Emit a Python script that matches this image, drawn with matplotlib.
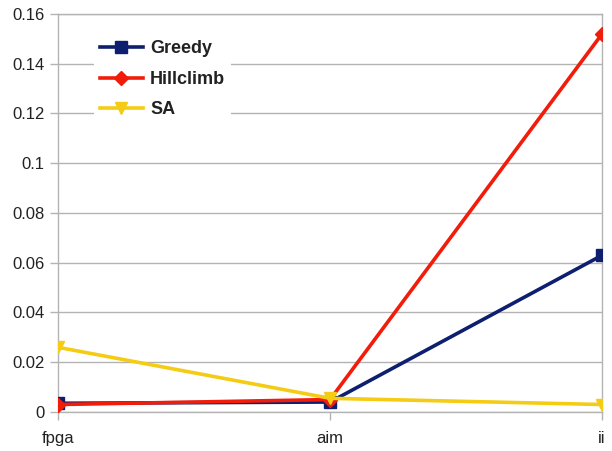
import matplotlib
matplotlib.use("Agg")
import matplotlib.pyplot as plt

categories = ["fpga", "aim", "ii"]
greedy = [0.0035, 0.004, 0.063]
hillclimb = [0.003, 0.005, 0.152]
sa = [0.026, 0.0055, 0.003]
yticks = [0, 0.02, 0.04, 0.06, 0.08, 0.1, 0.12, 0.14, 0.16]
ytick_labels = ["0", "0.02", "0.04", "0.06", "0.08", "0.1", "0.12", "0.14", "0.16"]

plt.rcParams["font.family"] = ["Liberation Sans", "DejaVu Sans"]

fig = plt.figure(figsize=(6.12, 4.51), dpi=100)
ax = fig.add_axes([0.0948, 0.0865, 0.889, 0.8825])

x = list(range(len(categories)))
ax.plot(x, greedy, color="#0d1f6e", lw=2.6, marker="s", ms=8.5, label="Greedy", zorder=3)
ax.plot(x, hillclimb, color="#f21c0a", lw=2.6, marker="D", ms=7, label="Hillclimb", zorder=4)
ax.plot(x, sa, color="#f5cc14", lw=2.6, marker="v", ms=9, label="SA", zorder=5)

ax.set_xlim(0, 2)
ax.set_ylim(0, 0.16)
ax.set_xticks(x)
ax.set_xticklabels(categories)
ax.set_yticks(yticks)
ax.set_yticklabels(ytick_labels)
ax.yaxis.grid(True, color="#b3b3b3", lw=1)
ax.set_axisbelow(True)
for s in ax.spines.values():
    s.set_color("#b3b3b3")
    s.set_linewidth(1)
ax.tick_params(axis="both", colors="#b3b3b3", labelcolor="#222222", labelsize=12, length=6, width=1)
ax.tick_params(axis="x", pad=8)

leg = ax.legend(loc="upper left", bbox_to_anchor=(0.05, 0.97), frameon=True,
                prop={"size": 13, "weight": "bold"},
                handlelength=2.4, labelspacing=0.75, borderpad=0.3, handletextpad=0.4)
leg.get_frame().set_edgecolor("none")
leg.get_frame().set_facecolor("white")
leg.get_frame().set_alpha(1)
for t in leg.get_texts():
    t.set_color("#222222")

fig.savefig("out.png", dpi=100)
